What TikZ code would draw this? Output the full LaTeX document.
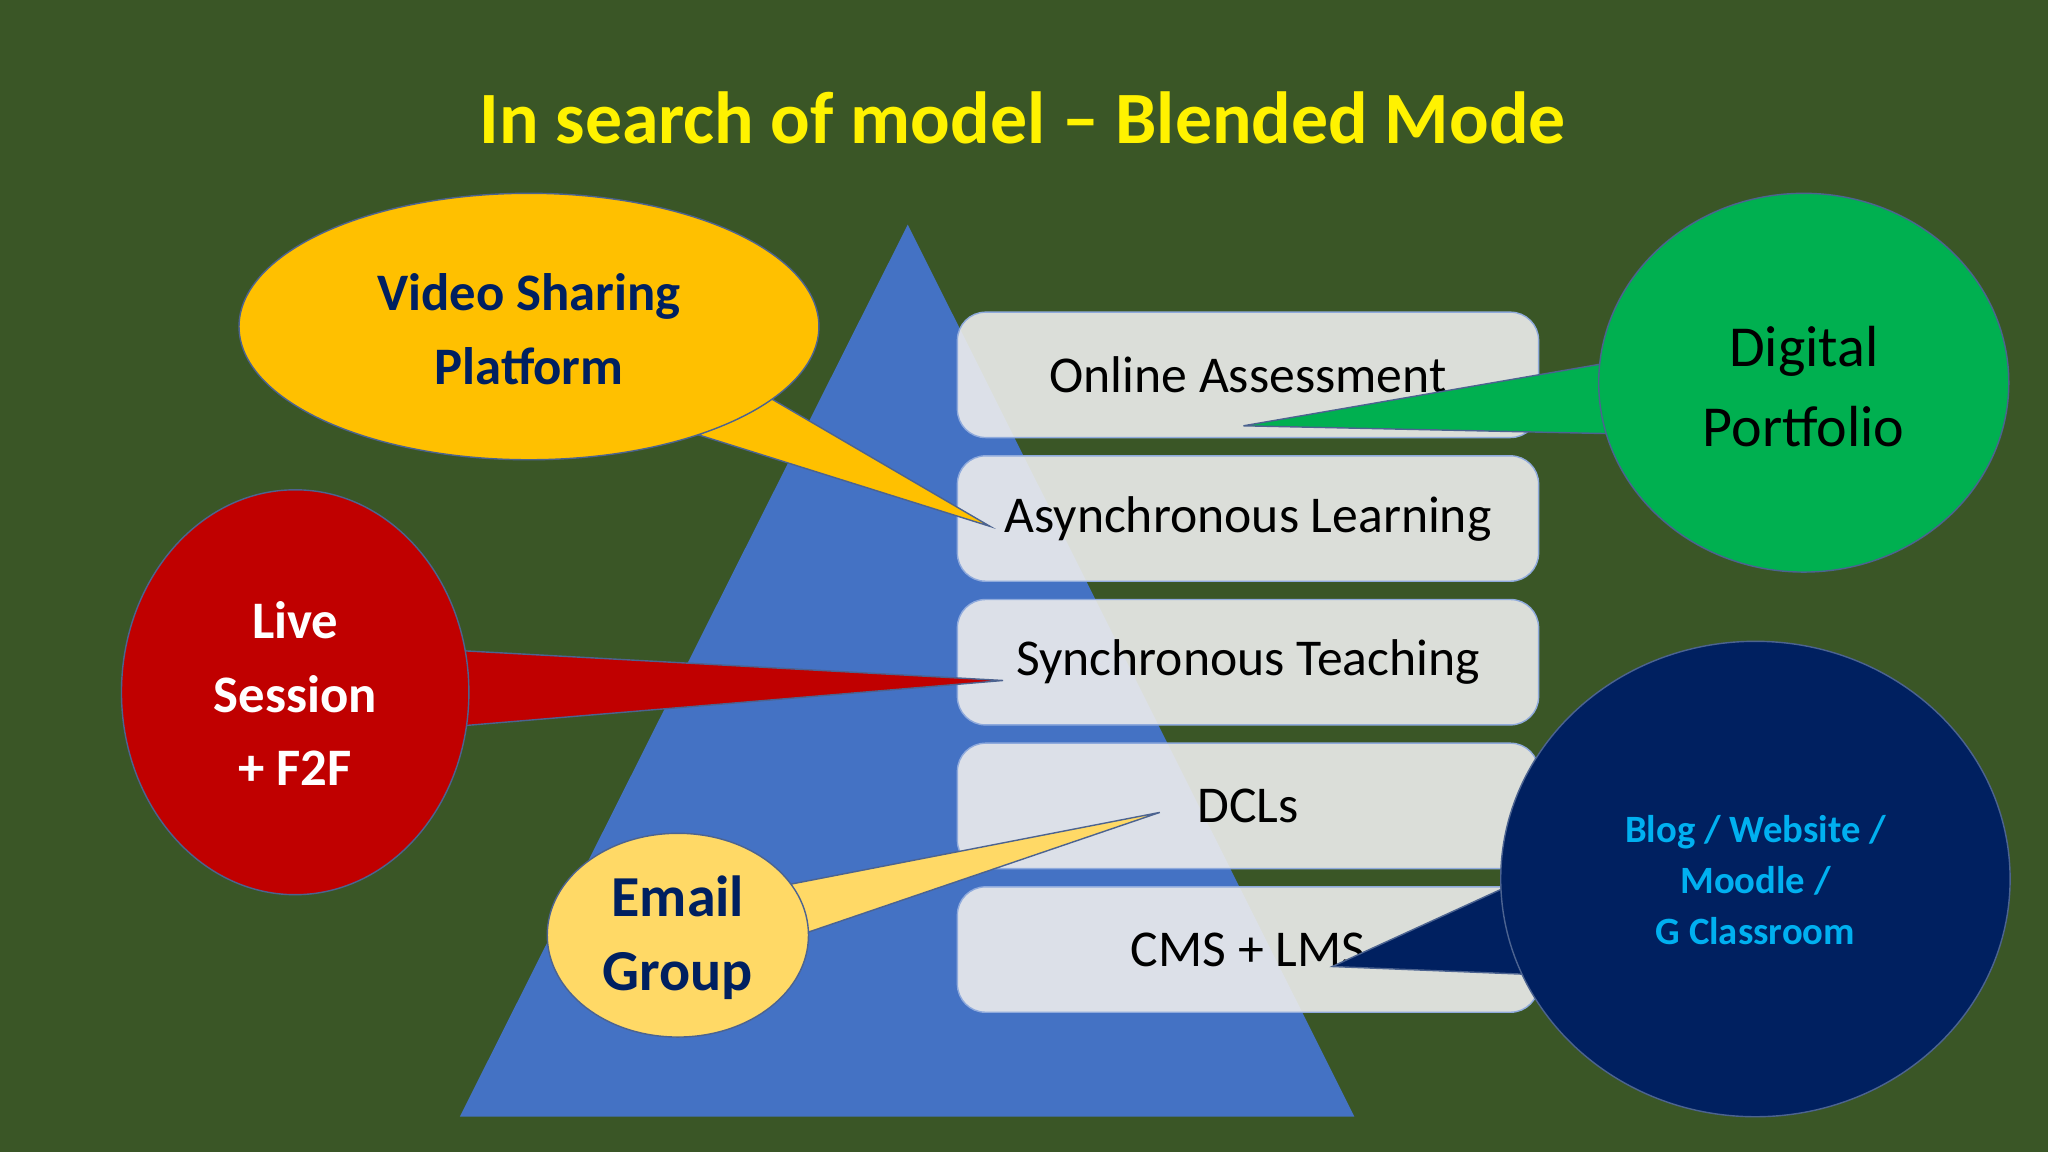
\documentclass[tikz,border=0pt]{standalone}
\usepackage{fontspec}
\setmainfont{Carlito}
\definecolor{bggreen}{HTML}{3A5626}
\definecolor{triblue}{HTML}{4472C4}
\definecolor{boxgray}{HTML}{EDEDED}
\definecolor{navy}{HTML}{002060}
\definecolor{gold}{HTML}{FFC000}
\definecolor{lightgold}{HTML}{FFD966}
\definecolor{darkred}{HTML}{C00000}
\definecolor{green}{HTML}{00B050}
\definecolor{skyblue}{HTML}{00B0F0}
\tikzset{
	layer/.style={draw=triblue!60,fill=boxgray,fill opacity=0.9,text opacity=1,rounded corners=8pt,minimum width=445*0.01306cm,minimum height=96*0.01306cm,font=\fontsize{14.7}{16}\selectfont},
	bubble/.style={draw=navy!70,thin,align=center},
}
\begin{document}
\begin{tikzpicture}[x=0.01306cm,y=-0.01306cm]
	\fill[bggreen] (0,0) rectangle (1568,882);
	\useasboundingbox (0,0) rectangle (1568,882);
	\node[text=yellow,font=\bfseries\fontsize{21}{24}\selectfont] (title) at (783,90) {In search of model -- Blended Mode};
	% pyramid
	\fill[triblue] (695,172) -- (1037,855) -- (352,855) -- cycle;
	% layers
	\node[layer] (assess) at (955.5,287) {Online Assessment};
	\node[layer] (async) at (955.5,397) {Asynchronous Learning};
	\node[layer] (sync) at (955.5,507) {Synchronous Teaching};
	\node[layer] (dcl) at (955.5,617) {DCLs};
	\node[layer] (cms) at (955.5,727) {CMS + LMS};
	% callouts
	\coordinate (tvideo) at (758,403);
	\coordinate (tlive) at (768,521);
	\coordinate (temail) at (888,622);
	\coordinate (tport) at (952,326);
	\coordinate (tblog) at (1020,740);
	\filldraw[bubble,fill=gold] (590,305) -- (tvideo) -- (535,333) -- cycle;
	\filldraw[bubble,fill=gold] (405,250) ellipse (222 and 102);
	\node[text=navy,font=\bfseries\fontsize{15}{21}\selectfont,align=center] (video) at (405,252) {Video Sharing\\Platform};
	\filldraw[bubble,fill=darkred] (350,498) -- (tlive) -- (350,556) -- cycle;
	\filldraw[bubble,fill=darkred] (226,530) ellipse (133 and 155);
	\node[text=white,font=\bfseries\fontsize{15}{21}\selectfont,align=center] (live) at (226,531) {Live\\Session\\+ F2F};
	\filldraw[bubble,fill=lightgold] (600,678) -- (temail) -- (612,716) -- cycle;
	\filldraw[bubble,fill=lightgold] (519,716) ellipse (100 and 78);
	\node[text=navy,font=\bfseries\fontsize{16.5}{21}\selectfont,align=center] (email) at (519,718) {Email\\Group};
	\filldraw[bubble,fill=green] (1230,278) -- (tport) -- (1232,332) -- cycle;
	\filldraw[bubble,fill=green] (1381,293) ellipse (157 and 145);
	\node[font=\fontsize{16.5}{23}\selectfont,align=center] (portfolio) at (1381,296) {Digital\\Portfolio};
	\filldraw[bubble,fill=navy] (1160,676) -- (tblog) -- (1170,746) -- cycle;
	\filldraw[bubble,fill=navy] (1344,673) ellipse (195 and 182);
	\node[text=skyblue,font=\bfseries\fontsize{11}{14.5}\selectfont,align=center] (blog) at (1344,674) {Blog / Website /\\Moodle /\\G Classroom};
\end{tikzpicture}
\end{document}
